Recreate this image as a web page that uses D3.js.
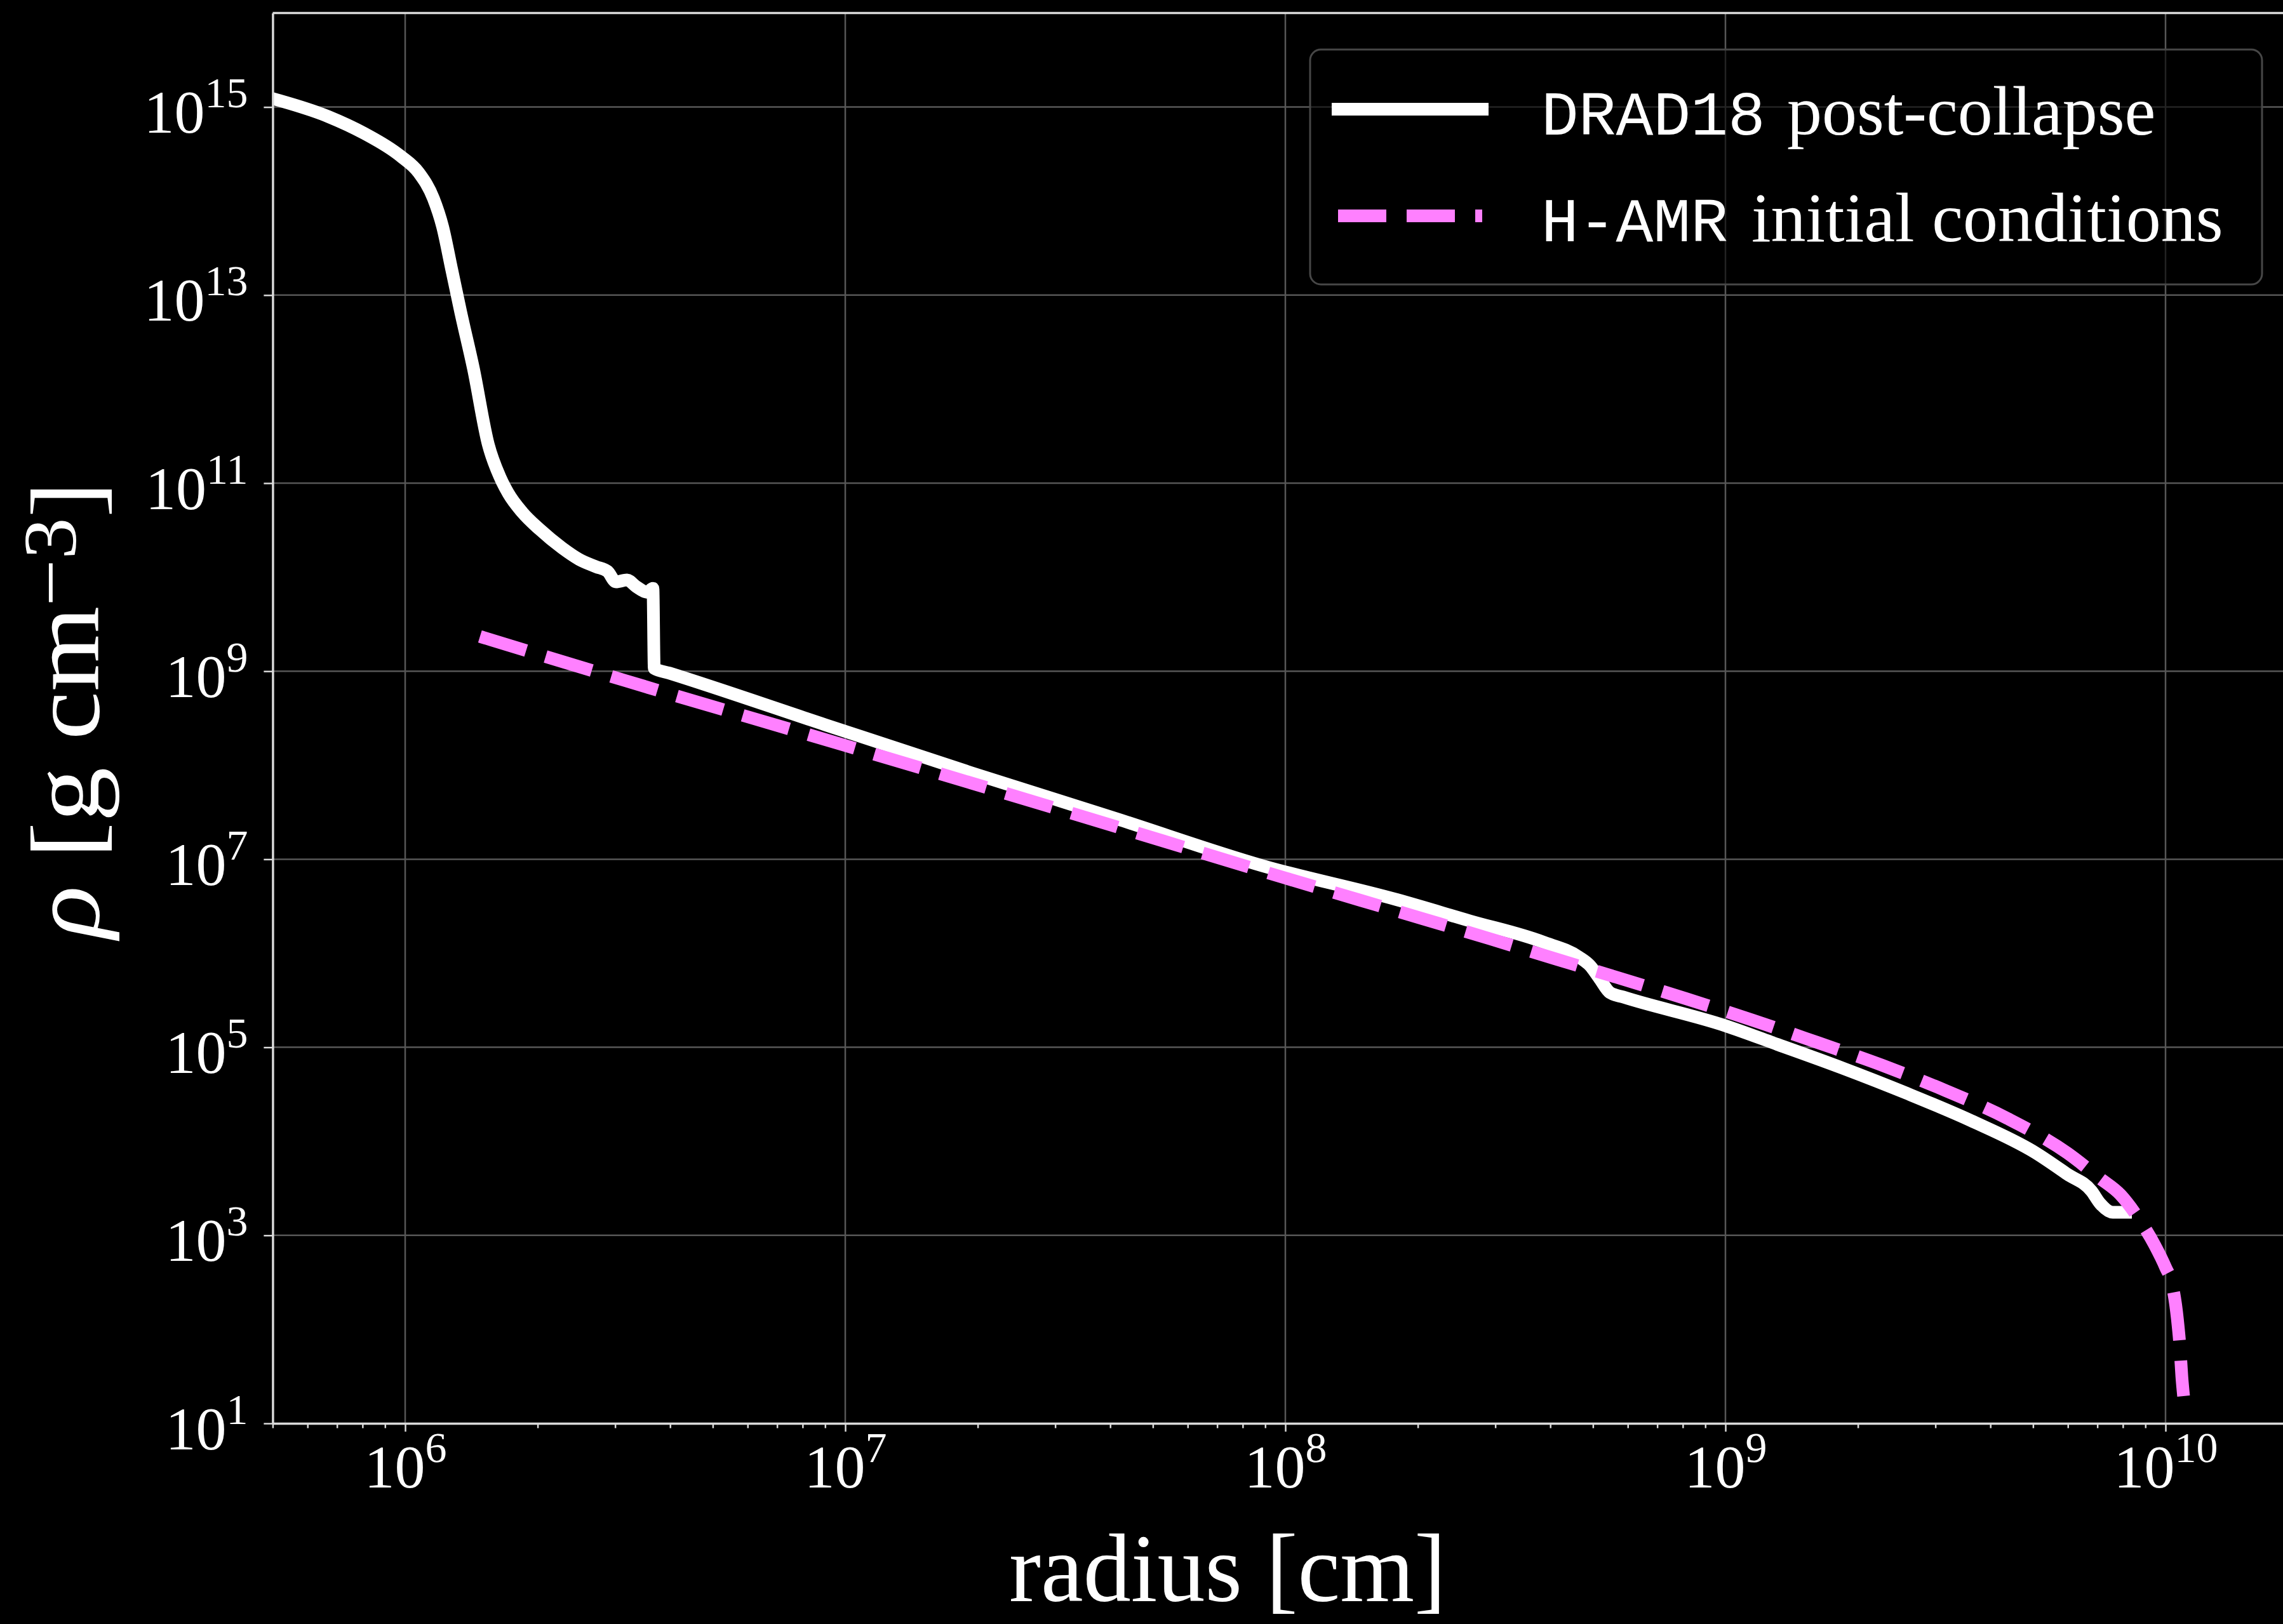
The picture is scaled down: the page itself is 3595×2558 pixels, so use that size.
<!DOCTYPE html>
<html>
<head>
<meta charset="utf-8">
<script src="https://cdn.jsdelivr.net/npm/d3@7"></script>
<style>
html, body { margin: 0; padding: 0; background: #000; }
svg { display: block; }
</style>
</head>
<body>
<svg id="chart" width="3595" height="2558"></svg>
<script>
// ---------------- data ----------------
const drad18Radius = [5.00e5, 6.68e5, 8.07e5, 9.75e5, 1.074e6, 1.159e6, 1.216e6, 1.276e6, 1.337e6, 1.429e6,
  1.545e6, 1.641e6, 1.716e6, 1.845e6, 2.018e6, 2.275e6, 2.483e6, 2.716e6, 2.884e6, 3.013e6,
  3.192e6, 3.350e6, 3.548e6, 3.656e6, 3.681e6, 3.98e6, 9.01e6, 1.932e7, 4.14e7, 8.89e7,
  1.791e8, 2.624e8, 3.846e8, 4.645e8, 4.92e8, 5.16e8, 5.47e8, 5.85e8, 9.98e8, 1.315e9,
  1.841e9, 2.582e9, 3.614e9, 5.058e9, 5.984e9, 6.792e9, 7.096e9, 7.586e9, 8.11e9];
const drad18Density = [1.23e15, 7.94e14, 5.25e14, 3.02e14, 2.00e14, 1.07e14, 5.37e13, 1.86e13, 6.61e12, 1.66e12,
  2.57e11, 1.17e11, 7.76e10, 4.90e10, 3.24e10, 2.04e10, 1.55e10, 1.29e10, 1.15e10, 8.91e9,
  9.33e9, 7.94e9, 6.92e9, 7.59e9, 1.07e9, 9.55e8, 2.69e8, 8.32e7, 2.69e7, 8.51e6,
  3.72e6, 2.21e6, 1.32e6, 9.12e5, 7.41e5, 5.50e5, 3.80e5, 3.43e5, 1.70e5, 1.07e5,
  6.03e4, 3.24e4, 1.66e4, 7.59e3, 4.47e3, 2.95e3, 2.19e3, 1.76e3, 1.76e3];

const hamrRadius = [1.479e6, 3.162e6, 1.0e7, 3.162e7, 1.0e8, 2.046e8, 2.911e8, 4.111e8, 5.794e8, 8.166e8,
  1.151e9, 1.622e9, 2.265e9, 3.162e9, 4.385e9, 5.984e9, 7.079e9, 7.907e9, 8.71e9, 9.44e9,
  1.0e10, 1.035e10, 1.064e10, 1.079e10, 1.089e10, 1.099e10];
const hamrDensity = [2.34e9, 7.94e8, 1.62e8, 3.24e7, 6.31e6, 2.34e6, 1.43e6, 8.71e5, 5.37e5, 3.27e5,
  1.95e5, 1.12e5, 6.46e4, 3.47e4, 1.74e4, 7.50e3, 4.07e3, 2.69e3, 1.48e3, 7.94e2,
  4.57e2, 3.02e2, 1.29e2, 63.1, 31.6, 19.5];

const xTickValues = [1e6, 1e7, 1e8, 1e9, 1e10];
const xTickExponents = ["6", "7", "8", "9", "10"];
const yTickValues = [1e1, 1e3, 1e5, 1e7, 1e9, 1e11, 1e13, 1e15];
const yTickExponents = ["1", "3", "5", "7", "9", "11", "13", "15"];

const seriesMono = ["DRAD18", "H-AMR"];
const seriesText = ["post-collapse", "initial conditions"];
const seriesColors = ["#ffffff", "#ff80ff"];

const xLabel = "radius [cm]";

// ---------------- layout ----------------
const serif = "'Liberation Serif', 'DejaVu Serif', serif";
const mono = "'Liberation Mono', 'DejaVu Sans Mono', monospace";
const plot = { left: 429.4, top: 20.5, bottom: 2242 };
const decadeX = 693;
const xDomain = [5e5, 2e10];
const yDomain = [1e1, 1e16];

const x = d3.scaleLog().domain(xDomain)
  .range([plot.left, plot.left + decadeX * Math.log10(xDomain[1] / xDomain[0])]);
const y = d3.scaleLog().domain(yDomain).range([plot.bottom, plot.top]);
const plotRight = x.range()[1];

const svg = d3.select("#chart");
svg.append("rect").attr("width", 3595).attr("height", 2558).attr("fill", "#000");

svg.append("defs").append("clipPath").attr("id", "plotclip")
  .append("rect").attr("x", plot.left).attr("y", plot.top)
  .attr("width", plotRight - plot.left).attr("height", plot.bottom - plot.top);

// grid
const grid = svg.append("g").attr("stroke", "#575757").attr("stroke-width", 2.5);
grid.selectAll("line.vg").data(xTickValues).join("line").attr("class", "vg")
  .attr("x1", d => x(d)).attr("x2", d => x(d)).attr("y1", plot.top).attr("y2", plot.bottom);
grid.selectAll("line.hg").data(yTickValues).join("line").attr("class", "hg")
  .attr("x1", plot.left).attr("x2", plotRight).attr("y1", d => y(d)).attr("y2", d => y(d));

// lines
const lineGen = d3.line().x(d => x(d[0])).y(d => y(d[1])).curve(d3.curveMonotoneX);
const lines = svg.append("g").attr("clip-path", "url(#plotclip)");
lines.append("path")
  .datum(d3.zip(drad18Radius, drad18Density))
  .attr("d", lineGen)
  .attr("fill", "none").attr("stroke", seriesColors[0]).attr("stroke-width", 20)
  .attr("stroke-linejoin", "round").attr("stroke-linecap", "square");
lines.append("path")
  .datum(d3.zip(hamrRadius, hamrDensity))
  .attr("d", lineGen)
  .attr("fill", "none").attr("stroke", seriesColors[1]).attr("stroke-width", 20)
  .attr("stroke-linejoin", "round").attr("stroke-linecap", "butt")
  .attr("stroke-dasharray", "76,32");

// axes
const axisColor = "#dadada";
const gx = svg.append("g").attr("transform", `translate(0,${plot.bottom})`)
  .call(d3.axisBottom(x).tickValues(xTickValues).tickSize(13).tickSizeOuter(0).tickFormat(""));
const minorX = x.ticks().filter(v => {
  const l = Math.log10(v); return Math.abs(l - Math.round(l)) > 1e-6 && x(v) < 3595;
});
const gxm = svg.append("g").attr("transform", `translate(0,${plot.bottom})`)
  .call(d3.axisBottom(x).tickValues(minorX).tickSize(7.5).tickFormat(""));
gxm.select(".domain").remove();

const gy = svg.append("g").attr("transform", `translate(${plot.left},0)`)
  .call(d3.axisLeft(y).tickValues(yTickValues).tickSize(14).tickSizeOuter(0).tickFormat(""));

[gx, gxm, gy].forEach(g => {
  g.selectAll(".tick text").remove();
  g.selectAll(".tick line").attr("stroke", axisColor).attr("stroke-width", 2.5);
  g.select(".domain").attr("stroke", axisColor).attr("stroke-width", 3.5);
});

gx.selectAll(".tick").each(function (d, i) {
  const t = d3.select(this).append("text")
    .attr("y", 101).attr("text-anchor", "middle").attr("fill", "#fff")
    .attr("font-family", serif).attr("font-size", 96);
  t.append("tspan").text("10");
  t.append("tspan").attr("font-size", 68).attr("dy", -40).text(xTickExponents[i]);
});
gy.selectAll(".tick").each(function (d, i) {
  const t = d3.select(this).append("text")
    .attr("x", -39).attr("y", 40).attr("text-anchor", "end").attr("fill", "#fff")
    .attr("font-family", serif).attr("font-size", 96);
  t.append("tspan").text("10");
  t.append("tspan").attr("font-size", 68).attr("dy", -40).text(yTickExponents[i]);
});

// top / right spines
svg.append("line").attr("x1", plot.left).attr("x2", plotRight)
  .attr("y1", plot.top).attr("y2", plot.top)
  .attr("stroke", axisColor).attr("stroke-width", 3.5);
svg.append("line").attr("x1", plotRight).attr("x2", plotRight)
  .attr("y1", plot.top).attr("y2", plot.bottom)
  .attr("stroke", axisColor).attr("stroke-width", 3.5);

// axis labels
svg.append("text").attr("x", 1933).attr("y", 2522).attr("text-anchor", "middle")
  .attr("fill", "#fff").attr("font-family", serif).attr("font-size", 152)
  .attr("textLength", 688).attr("lengthAdjust", "spacingAndGlyphs")
  .text(xLabel);

const yl = svg.append("text").attr("transform", "translate(155,1118) rotate(-90)")
  .attr("text-anchor", "middle").attr("fill", "#fff")
  .attr("font-family", serif).attr("font-size", 155)
  .attr("textLength", 720).attr("lengthAdjust", "spacingAndGlyphs");
yl.append("tspan").attr("font-style", "italic").text("ρ");
yl.append("tspan").text(" [g cm");
yl.append("tspan").attr("font-size", 118).attr("dy", -36).text("−3");
yl.append("tspan").attr("dy", 36).text("]");

// legend
const lg = svg.append("g");
lg.append("rect").attr("x", 2063).attr("y", 78).attr("width", 1499).attr("height", 370)
  .attr("rx", 17).attr("ry", 17)
  .attr("fill", "#000").attr("fill-opacity", 0.6)
  .attr("stroke", "#474747").attr("stroke-width", 3);
const rowY = [172, 340];
const rowTextX = [2814, 2758];
seriesMono.forEach((m, i) => {
  const sample = lg.append("line").attr("x1", 2107).attr("x2", 2334)
    .attr("y1", rowY[i]).attr("y2", rowY[i])
    .attr("stroke", seriesColors[i]).attr("stroke-width", 20);
  if (i === 0) sample.attr("stroke-linecap", "square");
  else sample.attr("stroke-linecap", "butt").attr("stroke-dasharray", "76,32");
  lg.append("text").attr("x", 2427).attr("y", rowY[i] + 40)
    .attr("fill", "#fff").attr("font-family", mono).attr("font-size", 98).text(m);
  lg.append("text").attr("x", rowTextX[i]).attr("y", rowY[i] + 40)
    .attr("fill", "#fff").attr("font-family", serif).attr("font-size", 110).text(seriesText[i]);
});
</script>
</body>
</html>
